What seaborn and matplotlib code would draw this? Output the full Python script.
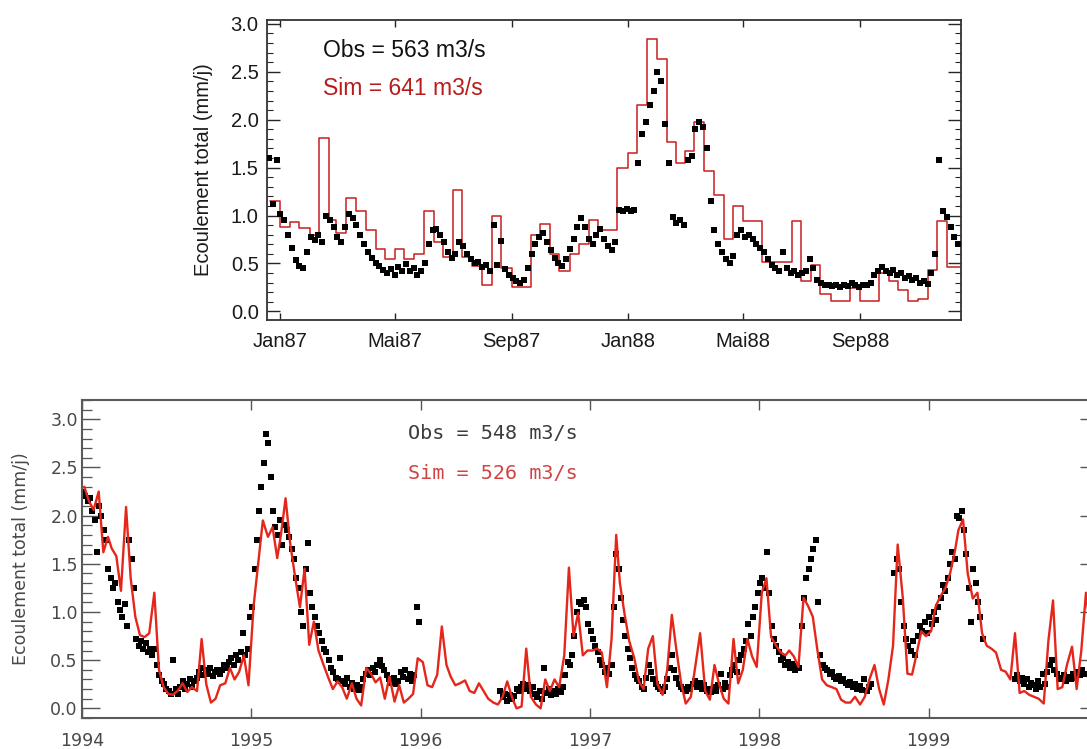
import numpy as np
import pandas as pd
import matplotlib
matplotlib.use("Agg")
import matplotlib.pyplot as plt
import seaborn as sns
from matplotlib.ticker import MultipleLocator, FormatStrFormatter

nan = np.nan

# ---------------- 1987-1988 ----------------
# observed flow, one reading every 4 days starting 20 Dec 1986
obs_8788 = [
    1.60, 1.12, 1.58, 1.02, 0.95, 0.80, 0.66, 0.54, 0.47, 0.45,
    0.62, 0.78, 0.74, 0.80, 0.72, 1.00, 0.95, 0.88, 0.78, 0.72,
    0.88, 1.02, 0.97, 0.90, 0.80, 0.70, 0.62, 0.56, 0.50, 0.47,
    0.43, 0.40, 0.44, 0.38, 0.46, 0.42, 0.49, 0.42, 0.45, 0.38,
    0.42, 0.50, 0.70, 0.85, 0.86, 0.80, 0.72, 0.62, 0.56, 0.60,
    0.72, 0.68, 0.60, 0.55, 0.50, 0.52, 0.46, 0.48, 0.42, 0.90,
    0.48, 0.73, 0.44, 0.38, 0.35, 0.32, 0.30, 0.33, 0.45, 0.60,
    0.70, 0.78, 0.82, 0.72, 0.64, 0.56, 0.50, 0.47, 0.55, 0.65,
    0.75, 0.88, 0.97, 0.88, 0.75, 0.70, 0.80, 0.86, 0.76, 0.68,
    0.64, 0.72, 1.06, 1.05, 1.07, 1.05, 1.06, 1.55, 1.85, 1.98,
    2.15, 2.30, 2.50, 2.40, 1.95, 1.55, 0.98, 0.92, 0.95, 0.90,
    1.58, 1.62, 1.90, 1.98, 1.92, 1.70, 1.15, 0.85, 0.70, 0.62,
    0.55, 0.50, 0.58, 0.80, 0.85, 0.78, 0.80, 0.75, 0.70, 0.66,
    0.62, 0.55, 0.48, 0.45, 0.42, 0.62, 0.45, 0.40, 0.42, 0.38,
    0.40, 0.42, 0.55, 0.45, 0.33, 0.30, 0.28, 0.27, 0.26, 0.27,
    0.25, 0.28, 0.26, 0.30, 0.27, 0.25, 0.28, 0.27, 0.30, 0.38,
    0.42, 0.46, 0.42, 0.40, 0.43, 0.38, 0.40, 0.35, 0.37, 0.33,
    0.35, 0.30, 0.32, 0.29, 0.40, 0.60, 1.58, 1.05, 0.98, 0.88,
    0.78, 0.70,
]
# simulated flow, one value per dekad, the first dekad starting 21 Dec 1986
sim_8788 = [
    1.15,
    0.88, 0.93, 0.87, 0.80, 1.81, 0.95, 0.82, 1.18, 1.05, 0.85,
    0.65, 0.55, 0.65, 0.55, 0.60, 1.05, 0.72, 0.57, 1.27, 0.57,
    0.47, 0.28, 0.99, 0.45, 0.25, 0.25, 0.80, 0.91, 0.60, 0.42,
    0.60, 0.70, 0.95, 0.85, 0.85, 1.50, 1.65, 2.15, 2.84, 2.63,
    1.77, 1.55, 1.67, 1.98, 1.46, 1.21, 0.76, 1.10, 0.94, 0.94,
    0.52, 0.52, 0.52, 0.94, 0.32, 0.48, 0.18, 0.11, 0.11, 0.24,
    0.11, 0.11, 0.40, 0.32, 0.22, 0.11, 0.13, 0.43, 0.94, 0.46,
    0.46, 0.46,
]
months_8788 = ["1987-01-01", "1987-05-01", "1987-09-01", "1988-01-01", "1988-05-01", "1988-09-01"]
month_labels_8788 = ["Jan87", "Mai87", "Sep87", "Jan88", "Mai88", "Sep88"]

# ---------------- 1994-1999 ----------------
# observed flow, one reading every 5 days starting 3 Jan 1994 (nan = no data)
obs_9499 = (
    [2.25, 2.20, 2.15, 2.18, 2.05, 1.95, 1.62, 2.10, 2.00, 1.85,
     1.75, 1.45, 1.35, 1.25, 1.30, 1.10, 1.02, 0.95, 1.08, 0.85,
     1.75, 1.55, 1.25, 0.72, 0.65, 0.70, 0.62, 0.68, 0.58, 0.62,
     0.55, 0.62, 0.45, 0.35, 0.28, 0.25, 0.20, 0.18, 0.15, 0.50,
     0.20, 0.15, 0.22, 0.28, 0.20, 0.25, 0.30, 0.22, 0.28, 0.32,
     0.38, 0.42, 0.35, 0.40, 0.36, 0.42, 0.34, 0.38, 0.40, 0.36,
     0.40, 0.45, 0.42, 0.48, 0.52, 0.45, 0.55, 0.50, 0.58, 0.78,
     0.55, 0.62, 0.95, 1.05, 1.45, 1.75, 2.05, 2.30, 2.55, 2.85,
     2.75, 2.40, 2.05, 1.88, 1.80, 1.95, 1.70, 1.90, 1.85, 1.78,
     1.65, 1.55, 1.35, 1.25, 1.00, 0.85, 1.45, 1.72, 1.20, 1.05,
     0.95, 0.85, 0.78, 0.70, 0.62, 0.58, 0.50, 0.42, 0.38, 0.32,
     0.30, 0.52, 0.28, 0.25, 0.32, 0.22, 0.26, 0.20, 0.24, 0.19,
     0.22, 0.30, 0.36, 0.40, 0.35, 0.42, 0.38, 0.45, 0.50, 0.44,
     0.40, 0.35, 0.30, 0.26, 0.32, 0.25, 0.28, 0.38, 0.33, 0.40,
     0.30, 0.36, 0.28, 0.35, 1.05, 0.90]
    + [nan] * 34
    + [0.18, 0.12, 0.15, 0.08, 0.14, 0.10, 0.13, 0.20, 0.18, 0.22,
       0.25, 0.20, 0.24, 0.18, 0.22, 0.15, 0.12, 0.18, 0.10, 0.42,
       0.16, 0.20, 0.14, 0.18, 0.15, 0.20, 0.17, 0.22, 0.35, 0.48,
       0.45, 0.55, 0.75, 1.00, 1.10, 1.08, 1.12, 1.05, 0.88, 0.80,
       0.72, 0.65, 0.58, 0.50, 0.45, 0.38, 0.42, 0.36, 0.45, 1.05,
       1.60, 1.45, 1.15, 0.92, 0.75, 0.62, 0.52, 0.42, 0.35, 0.30,
       0.28, 0.22, 0.20, 0.32, 0.45, 0.38, 0.30, 0.25, 0.22, 0.20,
       0.18, 0.22, 0.30, 0.42, 0.55, 0.40, 0.32, 0.25, 0.22, 0.20,
       0.18, 0.22, 0.20, 0.25, 0.28, 0.22, 0.26, 0.20, 0.24, 0.18,
       0.20, 0.17, 0.22, 0.18, 0.24, 0.36, 0.20, 0.26, 0.22, 0.35,
       0.40, 0.45, 0.38, 0.50, 0.55, 0.62, 0.70, 0.88, 0.75, 0.95,
       1.05, 1.20, 1.30, 1.35, 1.25, 1.62, 1.20, 0.85, 0.72, 0.65,
       0.58, 0.50, 0.52, 0.45, 0.48, 0.42, 0.46, 0.40, 0.44, 0.42,
       0.85, 1.15, 1.35, 1.45, 1.55, 1.65, 1.75, 1.10, 0.55, 0.45,
       0.42, 0.40, 0.36, 0.38, 0.33, 0.30, 0.34, 0.28, 0.30, 0.26,
       0.24, 0.27, 0.22, 0.25, 0.20, 0.23, 0.19, 0.30, 0.18, 0.22,
       0.25]
    + [nan] * 9
    + [1.40, 1.55, 1.45, 1.10, 0.85, 0.72, 0.65, 0.60, 0.70, 0.55,
       0.75, 0.85, 0.80, 0.90, 0.78, 0.95, 0.88, 1.00, 0.92, 1.05,
       1.15, 1.28, 1.22, 1.35, 1.50, 1.62, 1.55, 2.00, 1.98, 2.05,
       1.85, 1.60, 1.25, 0.90, 1.45, 1.30, 1.10, 0.95, 0.72]
    + [nan] * 13
    + [0.30, 0.35, 0.28, 0.32, 0.25, 0.30, 0.22, 0.26,
       0.24, 0.20, 0.28, 0.22, 0.36, 0.25, 0.38, 0.45, 0.50, 0.40,
       0.36, 0.32, 0.30, 0.35, 0.28, 0.33, 0.30, 0.36, 0.32, 0.38,
       0.35, 0.40, 0.36]
)
# simulated flow, one value per dekad (36 per year)
sim_9499 = [
    # 1994
    2.30, 2.15, 2.06, 2.25, 1.62, 1.78, 1.66, 1.58, 1.22, 2.09,
    1.35, 0.95, 0.76, 0.74, 0.78, 1.20, 0.40, 0.22, 0.15, 0.14,
    0.18, 0.26, 0.17, 0.22, 0.18, 0.72, 0.25, 0.06, 0.10, 0.24,
    0.26, 0.42, 0.30, 0.38, 0.55, 0.24,
    # 1995
    1.06, 1.50, 1.95, 1.78, 1.88, 1.56, 1.80, 2.18, 1.71, 1.35,
    1.05, 1.45, 0.66, 0.90, 0.60, 0.45, 0.32, 0.20, 0.28, 0.22,
    0.10, 0.26, 0.10, 0.03, 0.42, 0.36, 0.27, 0.32, 0.10, 0.33,
    0.07, 0.24, 0.06, 0.10, 0.15, 0.52,
    # 1996
    0.48, 0.24, 0.22, 0.35, 0.85, 0.45, 0.33, 0.24, 0.26, 0.29,
    0.18, 0.16, 0.26, 0.18, 0.10, 0.06, 0.04, 0.12, 0.28, 0.12,
    0.00, 0.02, 0.62, 0.12, 0.04, 0.00, 0.30, 0.18, 0.30, 0.22,
    0.55, 1.46, 0.75, 0.99, 0.55, 0.60,
    # 1997
    0.60, 0.62, 0.58, 0.22, 0.72, 1.80, 1.30, 0.98, 0.70, 0.52,
    0.28, 0.20, 0.62, 0.75, 0.25, 0.14, 0.40, 0.97, 0.60, 0.26,
    0.05, 0.12, 0.45, 0.78, 0.18, 0.09, 0.45, 0.25, 0.10, 0.05,
    0.72, 0.26, 0.40, 0.72, 0.54, 0.43,
    # 1998
    1.20, 1.35, 0.74, 0.65, 0.58, 0.55, 0.60, 0.54, 0.43, 1.15,
    1.06, 0.95, 0.60, 0.30, 0.24, 0.22, 0.20, 0.09, 0.06, 0.06,
    0.12, 0.04, 0.12, 0.30, 0.45, 0.20, 0.04, 0.30, 0.65, 1.70,
    1.15, 0.36, 0.35, 0.57, 0.80, 0.75,
    # 1999
    0.80, 1.06, 1.16, 1.25, 1.40, 1.62, 1.85, 1.96, 1.40, 1.14,
    1.20, 0.78, 0.65, 0.62, 0.58, 0.40, 0.38, 0.30, 0.78, 0.16,
    0.18, 0.14, 0.12, 0.10, 0.05, 0.70, 1.12, 0.20, 0.22, 0.45,
    0.64, 0.20, 0.60, 1.20, 0.80, 0.60,
]
year_labels = ["1994", "1995", "1996", "1997", "1998", "1999"]


def dekads(years, days):
    return [pd.Timestamp(y, m, d) for y in years for m in range(1, 13) for d in days]


top_obs = pd.DataFrame({"date": pd.date_range("1986-12-20", periods=len(obs_8788), freq="4D"), "q": obs_8788})
top_sim = pd.DataFrame({"date": [pd.Timestamp(1986, 12, 21)] + dekads([1987, 1988], (1, 11, 21)), "q": sim_8788})
bot_obs = pd.DataFrame({"date": pd.date_range("1994-01-03", periods=len(obs_9499), freq="5D"), "q": obs_9499}).dropna()
bot_sim = pd.DataFrame({"date": dekads(range(1994, 2000), (6, 16, 26)), "q": sim_9499})

sns.set_style("ticks")
fig = plt.figure(figsize=(10.87, 7.49), dpi=100)
ax1 = fig.add_axes([267 / 1087, 1 - 320 / 749, 694 / 1087, 300 / 749])
ax2 = fig.add_axes([82 / 1087, 1 - 718 / 749, 1016 / 1087, 318 / 749])

# top panel: dekad steps + observations
sns.lineplot(data=top_sim, x="date", y="q", ax=ax1, color="#c81e1e", linewidth=1.1,
             drawstyle="steps-post", zorder=2)
sns.scatterplot(data=top_obs, x="date", y="q", ax=ax1, color="black", s=16, marker="s",
                linewidth=0, zorder=3)

# bottom panel
sns.scatterplot(data=bot_obs, x="date", y="q", ax=ax2, color="black", s=13, marker="s",
                linewidth=0, zorder=2)
sns.lineplot(data=bot_sim, x="date", y="q", ax=ax2, color="#e5261a", linewidth=1.7, zorder=3)

top_font = "Liberation Sans"
bot_font = "DejaVu Sans"

# axes cosmetics, top
ax1.set_xlim(pd.Timestamp("1986-12-18"), pd.Timestamp("1988-12-16"))
ax1.set_ylim(-0.09, 3.04)
ax1.set_xticks(pd.to_datetime(months_8788))
ax1.set_xticklabels(month_labels_8788)
ax1.yaxis.set_major_locator(MultipleLocator(0.5))
ax1.yaxis.set_minor_locator(MultipleLocator(0.1))
ax1.yaxis.set_major_formatter(FormatStrFormatter("%.1f"))
ax1.tick_params(axis="y", which="major", direction="in", length=9.5, width=1, left=True, right=True,
                pad=6, labelsize=14.5, labelcolor="#1a1a1a", labelfontfamily=top_font)
ax1.tick_params(axis="y", which="minor", direction="in", length=4.5, width=0.8, left=True, right=True)
ax1.tick_params(axis="x", which="major", direction="in", length=5, width=1, top=True, bottom=True,
                pad=8.5, labelsize=14.5, labelcolor="#1a1a1a", labelfontfamily=top_font)
ax1.tick_params(axis="x", which="minor", bottom=False, top=False)
ax1.set_xlabel("")
ax1.set_ylabel("Ecoulement total (mm/j)", fontsize=14.5, family=top_font, color="#1a1a1a")
ax1.yaxis.set_label_coords(-0.078, 0.5)
for sp in ax1.spines.values():
    sp.set_linewidth(1.3)
    sp.set_color("#333333")
ax1.text(0.081, 0.90, "Obs = " + "563" + " m3/s", transform=ax1.transAxes, fontsize=16.5,
         family=top_font, color="#111111", va="center", ha="left")
ax1.text(0.081, 0.773, "Sim = " + "641" + " m3/s", transform=ax1.transAxes, fontsize=16.5,
         family=top_font, color="#b81c1c", va="center", ha="left")

# axes cosmetics, bottom (the right edge runs past the picture, as in the original)
ax2.set_xlim(pd.Timestamp("1994-01-01"), pd.Timestamp("2000-01-01"))
ax2.set_ylim(-0.10, 3.20)
ax2.set_xticks(pd.to_datetime([f"{y}-01-01" for y in year_labels]))
ax2.set_xticklabels(year_labels)
ax2.yaxis.set_major_locator(MultipleLocator(0.5))
ax2.yaxis.set_minor_locator(MultipleLocator(0.1))
ax2.yaxis.set_major_formatter(FormatStrFormatter("%.1f"))
ax2.tick_params(axis="y", which="major", direction="in", length=13, width=1, left=True, right=True,
                pad=3, labelsize=12.5, labelcolor="#484848", color="#555555", labelfontfamily=bot_font)
ax2.tick_params(axis="y", which="minor", direction="in", length=7, width=0.9, left=True, right=True,
                color="#555555")
ax2.tick_params(axis="x", which="major", direction="in", length=7, width=1, top=True, bottom=True,
                pad=10, labelsize=12.5, labelcolor="#484848", color="#555555", labelfontfamily=bot_font)
ax2.tick_params(axis="x", which="minor", bottom=False, top=False)
ax2.set_xlabel("")
ax2.set_ylabel("Ecoulement total (mm/j)", fontsize=12.5, family=bot_font, color="#484848")
ax2.yaxis.set_label_coords(-0.051, 0.5)
for sp in ax2.spines.values():
    sp.set_linewidth(1.5)
    sp.set_color("#5a5a5a")
ax2.text(0.321, 0.896, "Obs = " + "548" + " m3/s", transform=ax2.transAxes, fontsize=14.5,
         family="DejaVu Sans Mono", color="#3c3c3c", va="center", ha="left")
ax2.text(0.321, 0.770, "Sim = " + "526" + " m3/s", transform=ax2.transAxes, fontsize=14.5,
         family="DejaVu Sans Mono", color="#d04444", va="center", ha="left")

fig.savefig("out.png", dpi=100)
